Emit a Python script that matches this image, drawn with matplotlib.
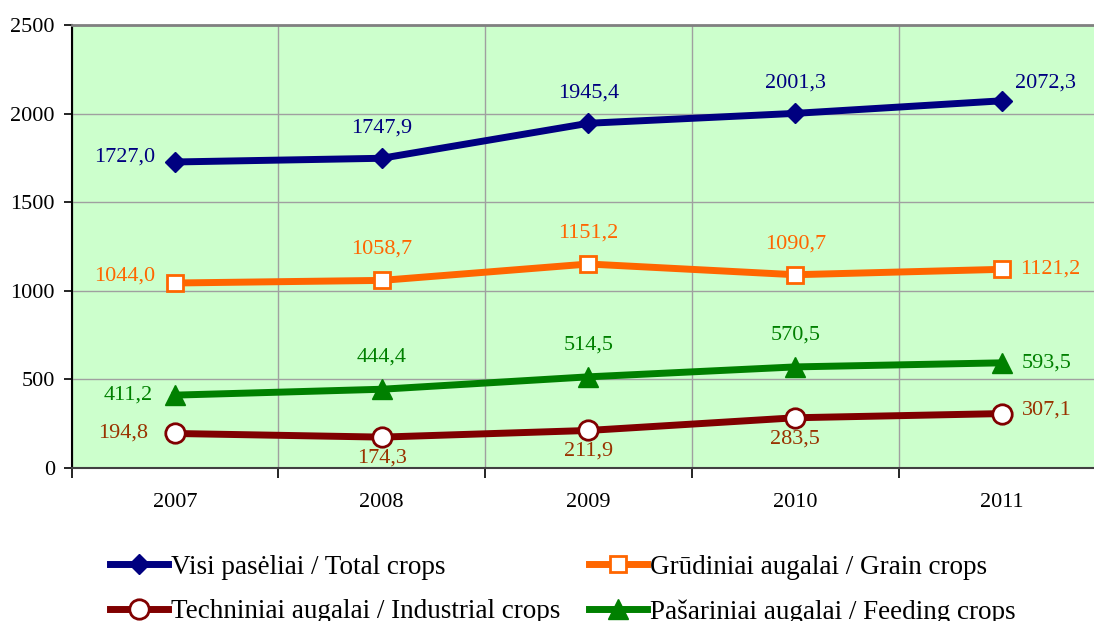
import matplotlib
matplotlib.use("Agg")
import matplotlib.pyplot as plt
from matplotlib.ticker import MultipleLocator, FixedLocator

plt.rcParams['font.family'] = ['Liberation Serif', 'DejaVu Serif']

# Data
years = ['2007', '2008', '2009', '2010', '2011']
total = [1727.0, 1747.9, 1945.4, 2001.3, 2072.3]
grain = [1044.0, 1058.7, 1151.2, 1090.7, 1121.2]
industrial = [194.8, 174.3, 211.9, 283.5, 307.1]
feeding = [411.2, 444.4, 514.5, 570.5, 593.5]
names = ['Visi pasėliai / Total crops',
         'Grūdiniai augalai / Grain crops',
         'Techniniai augalai / Industrial crops',
         'Pašariniai augalai / Feeding crops']

fig = plt.figure(figsize=(10.94, 6.21), dpi=100)
ax = fig.add_axes([71.6 / 1094, 1 - 468 / 621, 1033.75 / 1094, 443 / 621])
ax.set_facecolor('#CCFFCC')

x = list(range(len(years)))

l_total, = ax.plot(x, total, color='#000080', lw=5, marker='D', ms=10,
                   mfc='#000080', mec='#000080', zorder=5)
l_grain, = ax.plot(x, grain, color='#FF6600', lw=5, marker='s', ms=11,
                   mfc='white', mec='#FF6600', mew=2, zorder=5)
l_ind, = ax.plot(x, industrial, color='#800000', lw=5, marker='o', ms=14,
                 mfc='white', mec='#800000', mew=2, zorder=5)
l_feed, = ax.plot(x, feeding, color='#008000', lw=5, marker='^', ms=14,
                  mfc='#008000', mec='#008000', zorder=5)


def fmt(v):
    return ('%.1f' % v).replace('.', ',')


def label_series(vals, color, first, middle, last):
    for i, v in enumerate(vals):
        if i == 0:
            dx, dy, ha = first[0], first[1], 'right'
        elif i == len(vals) - 1:
            dx, dy, ha = last[0], last[1], 'left'
        else:
            dx, dy, ha = 0, middle, 'center'
        ax.annotate(fmt(v), (x[i], v), xytext=(dx, dy), textcoords='offset pixels',
                    ha=ha, va='center', fontsize=16, color=color, zorder=6)


label_series(total, '#000080', (-20, 5), 30, (13, 18))
label_series(grain, '#FF6600', (-20, 7), 31, (18, 0))
label_series(feeding, '#008000', (-22, 0), 32, (20, 0))
label_series(industrial, '#993300', (-27, 0), -21, (20, 4))

ax.set_xlim(-0.5, 4.5)
ax.set_ylim(0, 2500)
ax.yaxis.set_major_locator(MultipleLocator(500))
ax.set_xticks(x)
ax.set_xticklabels(years)
ax.xaxis.set_minor_locator(FixedLocator([-0.5, 0.5, 1.5, 2.5, 3.5, 4.5]))
ax.tick_params(axis='x', which='major', length=0, pad=18, labelsize=16)
ax.tick_params(axis='x', which='minor', length=7, width=1.2, direction='out')
ax.tick_params(axis='y', length=6, width=1.2, direction='out', pad=6, labelsize=16)

ax.grid(axis='y', which='major', color='#A0A0A0', lw=1)
ax.grid(axis='x', which='minor', color='#A0A0A0', lw=1)
ax.set_axisbelow(True)

ax.spines['left'].set_color('black')
ax.spines['left'].set_linewidth(1.5)
ax.spines['bottom'].set_color('#404040')
ax.spines['bottom'].set_linewidth(1.5)
ax.spines['top'].set_color('#808080')
ax.spines['top'].set_linewidth(2)
ax.spines['right'].set_visible(False)

fig.legend([l_total, l_ind, l_grain, l_feed],
           [names[0], names[2], names[1], names[3]],
           ncol=2, frameon=False, loc='upper left',
           bbox_to_anchor=(99 / 1094, 1 - 544 / 621),
           fontsize=19.5, handlelength=2.16, handletextpad=0.1,
           columnspacing=1.05, labelspacing=0.72, borderaxespad=0)

fig.savefig('out.png', dpi=100)
